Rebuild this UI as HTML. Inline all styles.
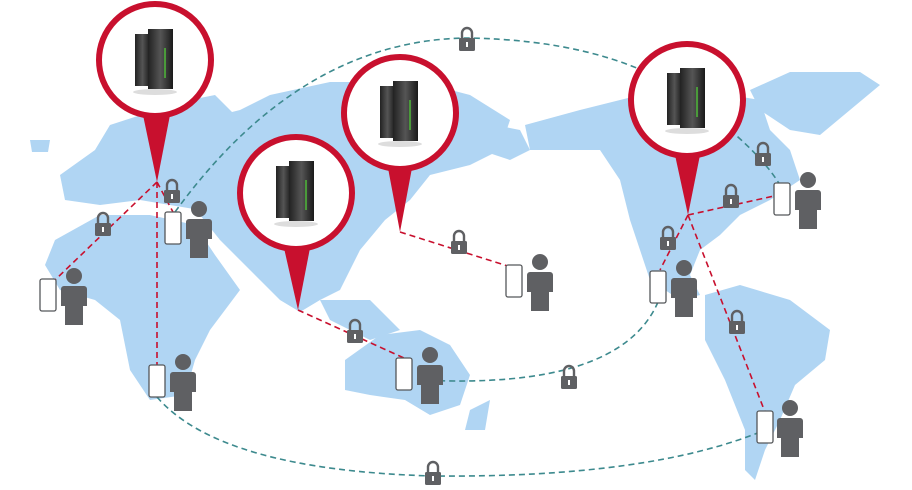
<!DOCTYPE html>
<html><head><meta charset="utf-8"><style>html,body{margin:0;padding:0;background:#fff}svg{display:block}</style></head>
<body>
<svg width="912" height="490" viewBox="0 0 912 490" xmlns="http://www.w3.org/2000/svg">
<defs>
<linearGradient id="srv" x1="0" x2="1"><stop offset="0" stop-color="#222"/><stop offset="0.5" stop-color="#555"/><stop offset="1" stop-color="#1a1a1a"/></linearGradient>
<g id="server"><rect x="-20" y="-26" width="15" height="52" fill="url(#srv)"/><rect x="-7" y="-31" width="25" height="60" fill="url(#srv)"/><rect x="9" y="-12" width="2" height="30" fill="#4a9a3a"/><ellipse cx="0" cy="32" rx="22" ry="3" fill="#ddd"/></g>
<g id="lock"><path d="M-5,-2 v-5 a5,5 0 0 1 10,0 v5" fill="none" stroke="#5f6063" stroke-width="2.4"/><rect x="-8" y="-2" width="16" height="13" rx="1.5" fill="#5f6063"/><rect x="-1" y="2" width="2" height="5" fill="#fff"/></g>
<g id="phone"><rect x="-8" y="-16" width="16" height="32" rx="2" fill="#fff" stroke="#55575a" stroke-width="1.3"/></g>
<g id="person"><circle cx="0" cy="-19" r="8" fill="#5f6063"/><path d="M-10,-9 h20 a3,3 0 0 1 3,3 v17 h-4 v19 h-18 v-19 h-4 v-17 a3,3 0 0 1 3,-3z" fill="#5f6063"/></g>
</defs>
<g fill="#b0d5f3">
<path d="M60,175 L95,150 L110,125 L150,112 L190,100 L215,95 L240,120 L245,170 L225,200 L200,210 L170,205 L140,200 L100,205 L65,200Z"/>
<path d="M30,140 L50,140 L48,152 L32,152Z"/>
<path d="M55,240 L100,215 L150,215 L195,225 L215,255 L240,290 L210,330 L195,360 L185,395 L150,400 L130,370 L120,320 L95,300 L60,290 L45,265Z"/>
<path d="M200,120 L240,110 L270,95 L330,82 L420,82 L470,95 L510,120 L500,150 L470,165 L430,175 L410,200 L385,220 L360,250 L340,290 L320,300 L300,312 L280,300 L260,280 L240,260 L220,240 L200,215 L210,170Z"/>
<path d="M470,120 L520,130 L530,150 L510,160 L480,150Z"/>
<path d="M320,300 L370,300 L400,330 L370,340 L330,320Z"/>
<path d="M345,360 L380,335 L420,330 L450,345 L470,375 L460,405 L430,415 L405,400 L370,395 L345,390Z"/>
<path d="M470,410 L490,400 L485,430 L465,430Z"/>
<path d="M525,125 L580,110 L640,95 L700,90 L760,100 L770,130 L790,150 L800,180 L770,200 L740,215 L720,235 L700,250 L690,275 L700,295 L680,300 L650,280 L640,250 L630,220 L620,180 L600,150 L560,150 L530,150Z"/>
<path d="M750,90 L790,72 L860,72 L880,85 L850,110 L820,135 L790,130 L760,110Z"/>
<path d="M705,295 L740,285 L790,300 L830,330 L825,360 L795,385 L780,420 L765,450 L755,480 L745,470 L745,430 L725,380 L705,340Z"/>
</g>
<g fill="none" stroke="#3d8a8e" stroke-width="1.6" stroke-dasharray="6,4">
<path d="M175,212 Q300,40 467,38 Q600,40 680,90"/>
<path d="M730,130 Q765,160 780,185"/>
<path d="M658,302 Q620,390 420,380"/>
<path d="M157,397 Q220,470 433,476 Q650,478 765,430"/>
</g>
<g fill="none" stroke="#c8102e" stroke-width="1.6" stroke-dasharray="6,4">
<path d="M157,182 L55,280 M157,182 L173,212 M157,182 L157,365 M298,310 L404,358 M400,232 L514,268 M688,215 L660,270 M688,215 L774,196 M688,215 L765,412"/>
</g>
<g fill="#fff" stroke="#c8102e" stroke-width="6">
<path d="M143,115 L157,182 L170,115Z" fill="#c8102e" stroke="none"/>
<path d="M388,168 L400,232 L412,168Z" fill="#c8102e" stroke="none"/>
<path d="M284,248 L298,310 L310,248Z" fill="#c8102e" stroke="none"/>
<path d="M675,155 L688,215 L700,155Z" fill="#c8102e" stroke="none"/>
<circle cx="155" cy="60" r="56"/>
<circle cx="400" cy="113" r="56"/>
<circle cx="296" cy="193" r="56"/>
<circle cx="687" cy="100" r="56"/>
</g>
<use href="#server" x="155" y="60"/><use href="#server" x="400" y="112"/><use href="#server" x="296" y="192"/><use href="#server" x="687" y="99"/>
<use href="#lock" x="103" y="225"/><use href="#lock" x="172" y="192"/><use href="#lock" x="355" y="332"/><use href="#lock" x="459" y="243"/><use href="#lock" x="467" y="40"/><use href="#lock" x="569" y="378"/><use href="#lock" x="433" y="474"/><use href="#lock" x="668" y="239"/><use href="#lock" x="731" y="197"/><use href="#lock" x="763" y="155"/><use href="#lock" x="737" y="323"/>
<use href="#phone" x="48" y="295"/><use href="#person" x="74" y="295"/>
<use href="#phone" x="173" y="228"/><use href="#person" x="199" y="228"/>
<use href="#phone" x="157" y="381"/><use href="#person" x="183" y="381"/>
<use href="#phone" x="404" y="374"/><use href="#person" x="430" y="374"/>
<use href="#phone" x="514" y="281"/><use href="#person" x="540" y="281"/>
<use href="#phone" x="658" y="287"/><use href="#person" x="684" y="287"/>
<use href="#phone" x="782" y="199"/><use href="#person" x="808" y="199"/>
<use href="#phone" x="765" y="427"/><use href="#person" x="790" y="427"/>
</svg>
</body></html>
